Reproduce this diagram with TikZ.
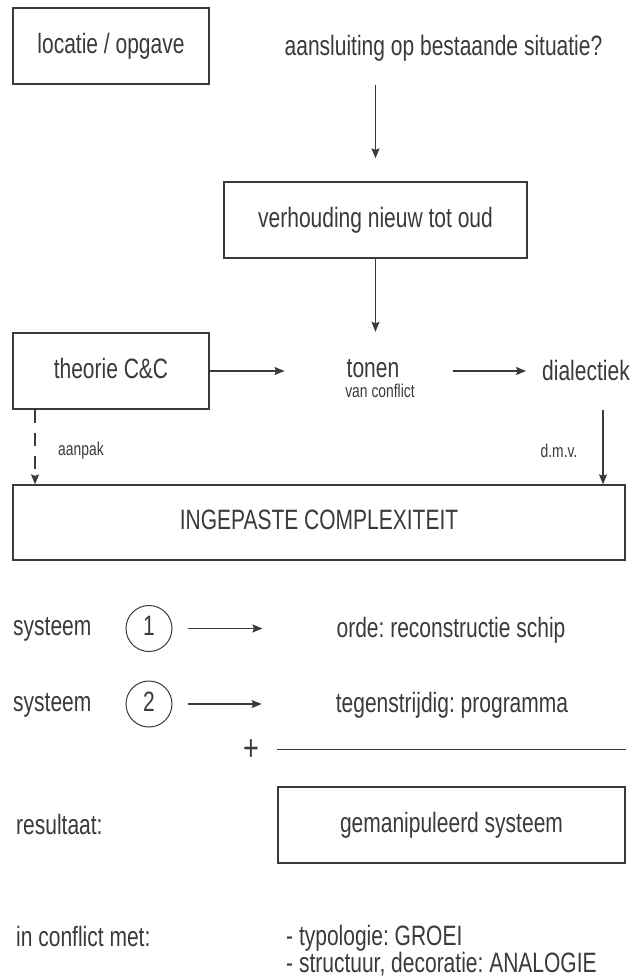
\documentclass[tikz,border=0pt]{standalone}
\usepackage{fontspec}
\setmainfont{Liberation Sans}[FakeStretch=0.75]
\usetikzlibrary{arrows.meta}
\frenchspacing
\definecolor{inkt}{HTML}{3A3A3A}
\newcommand{\grootschrift}{\fontsize{28pt}{29pt}\selectfont}
\newcommand{\kleinschrift}{\fontsize{18.5pt}{19pt}\selectfont}
\tikzset{
    tekst/.style={inner sep=0, text=inkt, font=\grootschrift, text height=20pt, text depth=6pt},
    klein/.style={inner sep=0, text=inkt, font=\kleinschrift, text height=13pt, text depth=3.5pt},
    blok/.style={tekst, rectangle, draw=inkt, line width=1.3pt, minimum height=76pt},
    rondje/.style={tekst, circle, draw=inkt, line width=1pt, minimum size=46pt},
    pijl/.style={draw=inkt, line width=1.1pt, -{Stealth[length=10pt, width=8pt, inset=1.5pt]}},
    streep/.style={pijl, dash pattern=on 13pt off 10pt}
}

\begin{document}
\begin{tikzpicture}[x=1pt, y=-1pt]
    \useasboundingbox (0,0) rectangle (644,977);
    \node[blok, minimum width=196pt] (locatie) at (111,46) {locatie / opgave};
    \node[tekst, anchor=base] (aansluiting) at (443.5,55) {aansluiting op bestaande situatie?};
    \node[blok, minimum width=303pt] (verhouding) at (375.5,220) {verhouding nieuw tot oud};
    \node[blok, minimum width=196pt] (theorie) at (111,371) {theorie C\&C};
    \node[tekst, anchor=base] (tonen) at (373,377) {tonen};
    \node[klein, anchor=base] (vanconflict) at (380,397) {van conflict};
    \node[tekst, anchor=base] (dialectiek) at (586,380) {dialectiek};
    \node[klein, anchor=base] (aanpak) at (81,455) {aanpak};
    \node[klein, anchor=base] (dmv) at (559,457) {d.m.v.};
    \node[blok, minimum width=612pt, minimum height=75pt] (complex) at (319,522.5) {INGEPASTE COMPLEXITEIT};
    \coordinate (links) at (35,0);
    \coordinate (rechts) at (603,0);

    \draw[pijl, shorten >=23pt] (verhouding.north |- locatie.south) -- (verhouding.north);
    \draw[pijl, shorten >=25pt] (verhouding.south) -- (verhouding.south |- tonen.north);
    \draw[pijl, shorten >=62pt] (theorie.east) -- (theorie.east -| tonen.west);
    \draw[pijl, shorten <=54pt, shorten >=16pt] (tonen.east |- theorie.east) -- (dialectiek.west |- theorie.east);
    \draw[streep] (theorie.south -| links) -- (complex.north -| links);
    \draw[pijl] (theorie.south -| rechts) -- (complex.north -| rechts);

    \node[tekst, anchor=base west] (systeem1) at (13,635) {systeem};
    \node[rondje] (een) at (149,628.5) {1};
    \node[tekst, anchor=base] (orde) at (451,637) {orde: reconstructie schip};
    \node[tekst, anchor=base west] (systeem2) at (13,711) {systeem};
    \node[rondje] (twee) at (149,704) {2};
    \node[tekst, anchor=base] (tegenstrijdig) at (452,712) {tegenstrijdig: programma};
    \draw[pijl, shorten <=15pt, shorten >=74pt] (een.east) -- (een.east -| orde.west);
    \draw[pijl, shorten <=15pt, shorten >=74pt] (twee.east) -- (twee.east -| tegenstrijdig.west);

    \node[tekst, font=\fontsize{36pt}{36pt}\selectfont, anchor=base] (plus) at (251,760) {+};
    \node[blok, minimum width=347pt] (resultaatblok) at (451.5,825) {gemanipuleerd systeem};
    \draw[draw=inkt, line width=1pt] (resultaatblok.west |- 0,749) -- (resultaatblok.east |- 0,749);
    \node[tekst, anchor=base west] (resultaat) at (16,834) {resultaat:};

    \node[tekst, anchor=base west] (inconflict) at (16,946) {in conflict met:};
    \node[tekst, anchor=base west] (typologie) at (286,945) {- typologie: GROEI};
    \node[tekst, anchor=base west] (structuur) at (286,972) {- structuur, decoratie: ANALOGIE};
\end{tikzpicture}
\end{document}
